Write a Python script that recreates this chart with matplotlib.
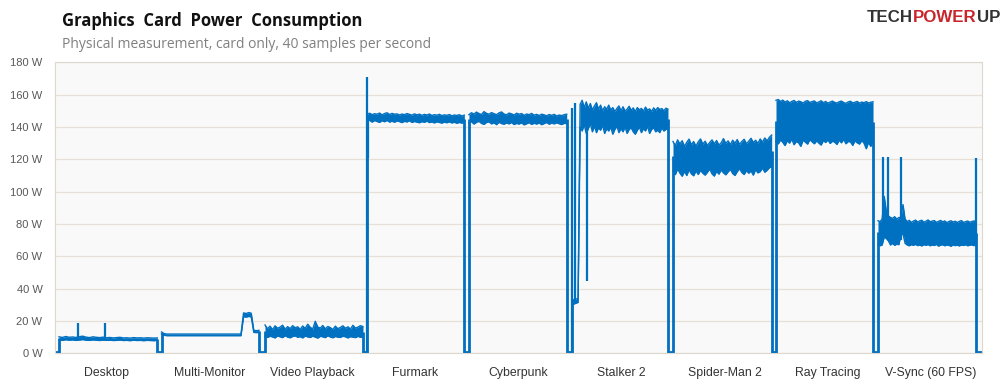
import numpy as np
import matplotlib
matplotlib.use("Agg")
import matplotlib.pyplot as plt

# test names and where each one sits on the time axis (one slot per test)
tests = ["Desktop", "Multi-Monitor", "Video Playback", "Furmark", "Cyberpunk",
         "Stalker 2", "Spider-Man 2", "Ray Tracing", "V-Sync (60 FPS)"]
starts = [0.039, 1.034, 2.039, 3.030, 4.019, 5.019, 6.000, 7.000, 7.990]
ends = [0.993, 1.980, 2.990, 3.974, 4.968, 5.951, 6.958, 7.942, 8.942]

# lower / upper envelope of the power trace (W)
desktop_lo = [8.2, 8.0, 8.4, 8.1, 8.3, 8.0, 8.2, 8.5, 8.1, 8.0, 8.3, 8.1, 7.9, 8.2, 8.0,
              8.1, 7.9, 8.0, 8.2, 7.9, 8.0, 7.8, 8.1, 7.9, 8.0, 7.8, 8.0, 7.9, 7.8, 8.0]
desktop_hi = [10.2, 9.8, 10.4, 9.9, 10.1, 9.8, 10.3, 10.6, 10.0, 9.7, 10.2, 9.9, 9.7, 10.0, 9.6,
              9.8, 9.5, 9.7, 9.9, 9.5, 9.6, 9.4, 9.7, 9.5, 9.6, 9.4, 9.6, 9.5, 9.4, 9.5]

mm_lo = [12.0, 11.2] + [10.9] * 30 + [22.6, 22.4, 22.8, 22.5] + [12.9, 12.8, 12.9]
mm_hi = [13.2, 12.2] + [11.9] * 30 + [25.0, 24.6, 25.2, 24.8] + [14.2, 14.0, 14.2]

video_lo = [10.5, 9.8, 10.6, 10.1, 9.5, 10.8, 10.2, 9.7, 10.9, 10.0, 9.6, 10.4, 10.8, 9.9,
            10.3, 9.5, 10.7, 10.1, 9.8, 10.6, 10.0, 9.4, 10.5, 10.2, 9.7, 10.9, 10.1, 9.6,
            10.4, 10.0, 9.8, 10.6, 10.2, 9.5, 10.3, 10.0, 9.7, 10.5, 9.9, 10.2]
video_hi = [17.5, 15.2, 16.8, 14.6, 17.0, 15.5, 16.2, 17.4, 14.9, 16.5, 15.3, 17.1, 15.8, 16.4,
            14.8, 16.9, 15.4, 18.0, 16.1, 15.0, 19.8, 16.3, 15.6, 17.2, 15.1, 16.6, 15.9, 14.7,
            16.8, 15.2, 16.0, 17.0, 15.5, 16.4, 15.0, 17.3, 15.6, 16.2, 17.1, 16.5]

furmark_lo = [143.5, 144.2, 143.0, 144.0, 143.4, 142.8, 143.9, 143.2, 144.1, 143.0,
              143.6, 142.9, 143.8, 143.3, 142.7, 143.5, 143.1, 143.9, 142.8, 143.4,
              143.0, 142.6, 143.3, 142.9, 143.6, 142.7, 143.1, 142.5, 143.2, 142.8,
              142.4, 143.0, 142.6, 143.2, 142.5, 142.9, 142.3, 142.8, 142.4, 142.7]
furmark_hi = [147.8, 148.5, 147.6, 148.2, 147.9, 148.6, 147.5, 148.3, 148.8, 147.7,
              148.4, 147.9, 148.1, 147.4, 148.0, 147.6, 148.3, 147.8, 147.3, 148.1,
              147.5, 147.9, 147.2, 147.8, 147.4, 148.0, 147.1, 147.6, 147.3, 147.8,
              147.0, 147.5, 147.2, 147.7, 146.9, 147.4, 147.1, 147.6, 146.8, 147.3]

cyber_lo = [142.5, 143.3, 141.8, 142.9, 143.5, 142.2, 141.6, 142.8, 143.2, 141.9,
            142.6, 141.4, 142.9, 142.1, 141.7, 142.5, 141.9, 142.8, 141.5, 142.2,
            141.8, 142.6, 141.3, 142.0, 142.7, 141.6, 142.3, 141.8, 142.5, 141.4,
            142.1, 142.8, 141.7, 142.4, 141.9, 142.6, 142.0, 141.5, 142.3, 142.0]
cyber_hi = [147.6, 148.8, 148.0, 149.2, 148.3, 147.7, 149.5, 148.4, 147.9, 148.9,
            148.2, 147.6, 148.7, 149.3, 148.0, 147.5, 148.6, 148.1, 147.4, 148.5,
            147.9, 148.3, 147.2, 148.0, 147.6, 148.4, 147.3, 147.8, 147.1, 147.9,
            147.5, 146.9, 147.7, 147.2, 147.8, 146.8, 147.4, 147.0, 147.6, 147.9]

stalker_lo = [30.0, 30.5, 31.0, 31.5, 140.0, 137.5, 141.5, 136.0, 139.0, 142.0,
              137.0, 140.5, 136.5, 139.5, 138.0, 141.0, 136.0, 139.0, 137.5, 140.0,
              135.5, 138.5, 140.5, 136.5, 139.0, 137.0, 140.0, 136.0, 138.5, 139.5,
              137.0, 135.5, 138.0, 140.0, 136.5, 139.0, 137.5, 140.5, 136.0, 138.5,
              139.5, 137.0, 138.0, 136.5, 139.5, 137.5, 138.5, 139.0]
stalker_hi = [33.5, 33.0, 33.5, 34.0, 154.0, 156.5, 152.0, 155.5, 151.5, 154.5,
              150.5, 153.0, 155.0, 151.0, 153.5, 150.0, 152.5, 151.0, 153.5, 150.5,
              152.0, 149.5, 151.5, 153.0, 150.0, 152.5, 149.8, 151.0, 152.8, 150.2,
              151.8, 149.5, 152.0, 150.6, 151.5, 149.8, 152.3, 150.4, 151.2, 149.6,
              151.8, 150.3, 152.0, 150.8, 151.4, 150.0, 151.6, 151.0]

spider_lo = [113.0, 110.5, 114.0, 111.5, 109.5, 112.5, 110.0, 113.5, 111.0, 109.8, 112.8,
             110.6, 113.2, 111.4, 110.2, 112.0, 114.0, 111.0, 109.6, 112.6, 110.8, 113.4,
             111.6, 110.4, 112.2, 113.8, 111.2, 110.0, 112.4, 114.2, 111.8, 110.6, 113.0,
             111.4, 112.8, 110.2, 113.6, 111.6, 112.4, 114.6, 112.0, 113.2, 114.8, 115.5]
spider_hi = [131.0, 128.5, 132.0, 129.5, 131.5, 128.0, 130.5, 132.5, 129.0, 131.0, 128.2,
             130.8, 132.6, 129.4, 131.2, 128.6, 130.4, 132.0, 129.6, 131.6, 128.8, 130.2,
             132.8, 129.8, 131.4, 129.0, 131.8, 130.0, 132.2, 129.2, 131.0, 132.4, 129.6,
             131.2, 133.0, 130.4, 131.8, 129.8, 132.6, 130.6, 133.2, 131.4, 133.6, 135.0]

ray_lo = [131.0, 129.5, 132.0, 130.5, 128.5, 131.5, 130.0, 132.5, 129.0, 131.0, 130.2,
          128.0, 131.8, 130.6, 129.4, 132.2, 130.8, 129.6, 131.4, 130.0, 128.8, 131.6,
          130.4, 132.0, 129.8, 131.2, 130.6, 129.2, 131.8, 130.2, 132.4, 129.6, 131.0,
          130.8, 128.6, 131.4, 130.2, 129.4, 131.6, 130.0, 126.5, 130.4, 128.0, 131.0]
ray_hi = [156.5, 157.0, 155.8, 156.6, 155.4, 156.2, 155.0, 155.8, 156.4, 155.2, 156.0,
          155.6, 154.8, 155.9, 156.3, 155.1, 155.7, 156.1, 154.9, 155.5, 156.2, 155.0,
          155.8, 154.7, 155.4, 156.0, 155.2, 154.8, 155.6, 156.0, 155.1, 154.6, 155.5,
          155.9, 154.9, 155.3, 155.8, 154.7, 155.4, 155.0, 155.7, 154.8, 155.3, 155.6]

vsync_lo = [67.5, 66.5, 67.0, 72.0, 71.0, 69.5, 67.0, 68.0, 66.8, 67.5, 67.2, 73.0,
            74.0, 68.0, 67.0, 66.5, 67.2, 66.8, 67.4, 66.6, 67.0, 66.4, 67.2, 66.8,
            67.3, 66.5, 67.0, 66.7, 67.4, 66.3, 66.9, 67.2, 66.5, 67.0, 66.8, 66.2,
            67.1, 66.6, 66.9, 66.4, 67.0, 66.7, 67.2, 66.5, 66.9, 67.1, 66.6, 67.0]
vsync_hi = [82.0, 81.5, 83.0, 97.0, 88.0, 85.0, 84.0, 83.5, 84.5, 83.0, 84.0, 84.0,
            92.0, 83.0, 81.5, 82.2, 81.0, 81.8, 82.4, 81.2, 81.9, 82.3, 81.1, 81.7,
            82.5, 81.4, 81.8, 82.1, 81.0, 81.6, 82.2, 81.3, 81.9, 80.8, 81.5, 82.0,
            81.2, 81.7, 80.9, 81.6, 82.1, 81.0, 81.4, 81.8, 81.1, 81.5, 81.9, 81.3]

lows = [desktop_lo, mm_lo, video_lo, furmark_lo, cyber_lo, stalker_lo, spider_lo, ray_lo, vsync_lo]
highs = [desktop_hi, mm_hi, video_hi, furmark_hi, cyber_hi, stalker_hi, spider_hi, ray_hi, vsync_hi]

# single-sample spikes and dips: position, from (W), to (W)
spike_x = [0.22, 0.485, 3.030, 3.036, 5.019, 5.045, 5.165, 8.040, 8.090, 8.210, 8.940]
spike_from = [9.0, 9.0, 0.0, 121.0, 0.0, 31.0, 45.0, 70.0, 70.0, 70.0, 70.0]
spike_to = [19.0, 18.5, 171.0, 145.0, 152.0, 155.0, 140.0, 121.6, 121.6, 121.6, 120.7]

blue = "#0070c0"
label_font = ["Liberation Sans", "DejaVu Sans"]

fig = plt.figure(figsize=(10.08, 3.87), dpi=100)
ax = fig.add_axes([55 / 1008, 33.7 / 387, 927 / 1008, 291 / 387])
ax.set_facecolor("#f9f9f9")

for lo, hi, s, e in zip(lows, highs, starts, ends):
    x = np.linspace(s, e, len(lo))
    ax.fill_between(x, lo, hi, color=blue, lw=0)
    ax.plot(x, lo, color=blue, lw=1.0)
    ax.plot(x, hi, color=blue, lw=1.0)
    # rising / falling edges
    ax.vlines([s], 0, (lo[0] + hi[0]) / 2, color=blue, lw=2)
    ax.vlines([e], 0, (lo[-1] + hi[-1]) / 2, color=blue, lw=2)

# idle gaps at 0 W between tests
gap_from = [0.0] + ends
gap_to = starts + [9.0]
ax.hlines([0.6] * len(gap_from), gap_from, gap_to, color=blue, lw=2, clip_on=False)

ax.vlines(spike_x, spike_from, spike_to, color=blue, lw=1.6)

ax.set_xlim(0, 9)
ax.set_ylim(0, 180)
ax.set_yticks(range(0, 181, 20))
ax.set_yticklabels([f"{v} W" for v in range(0, 181, 20)], fontsize=8, color="#595959",
                   family=label_font)
ax.set_xticks(np.arange(len(tests)) + 0.5)
ax.set_xticklabels(tests, fontsize=8.8, color="#333333", family=label_font)
ax.tick_params(axis="both", length=0)
ax.tick_params(axis="y", pad=9)
ax.tick_params(axis="x", pad=10)
ax.yaxis.grid(True, color="#e6e0d6", lw=0.9)
ax.set_axisbelow(True)
for sp in ax.spines.values():
    sp.set_color("#ddd8cf")
    sp.set_linewidth(0.8)

fig.text(62 / 1008, 1 - 21 / 387, "Graphics  Card  Power  Consumption", fontsize=12,
         fontweight="bold", family="Open Sans", color="#111111", va="center")
fig.text(62 / 1008, 1 - 44 / 387, "Physical measurement, card only, 40 samples per second",
         fontsize=10, family="Open Sans", color="#808080", va="center")

# logo
t1 = fig.text(867 / 1008, 1 - 17 / 387, "TECH", fontsize=12.2, fontweight="bold",
              family="Liberation Sans", color="#333333", va="center")
t2 = fig.text(0, 0, "POWER", fontsize=12.2, fontweight="bold", family="Liberation Sans",
              color="#c8262c", va="center")
t3 = fig.text(0, 0, "UP", fontsize=12.2, fontweight="bold", family="Liberation Sans",
              color="#333333", va="center")
fig.canvas.draw()
r = fig.canvas.get_renderer()
bb1 = t1.get_window_extent(r)
t2.set_position((bb1.x1 / fig.bbox.width, 1 - 17 / 387))
bb2 = t2.get_window_extent(r)
t3.set_position((bb2.x1 / fig.bbox.width, 1 - 17 / 387))

fig.savefig("out.png", dpi=100)
